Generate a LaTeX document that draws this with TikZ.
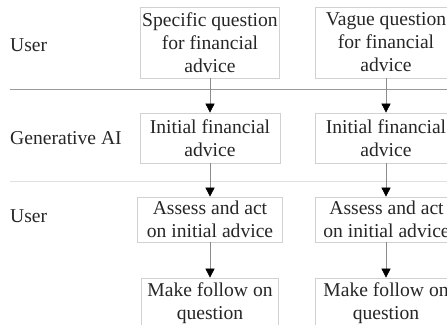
\documentclass[tikz,border=0pt]{standalone}
\usepackage{fontspec}
\setmainfont{Liberation Serif}
\usetikzlibrary{arrows.meta}
\begin{document}
\begin{tikzpicture}[x=1pt,y=-1pt,
  every node/.style={font=\fontsize{19.6}{23}\selectfont, text=black!85},
  stepbox/.style={draw=black!18, line width=0.7pt, align=center, inner sep=0pt},
  lane/.style={anchor=west, inner sep=0pt},
  conn/.style={draw=black!45, line width=0.6pt, -{Triangle[length=9pt,width=9pt,black]}},
  sep/.style={line width=0.6pt}]
\useasboundingbox (0,0) rectangle (447,324);
\node[lane] (u1) at (10,45) {User};
\node[lane] (g) at (10,138) {Generative AI};
\node[lane] (u2) at (10,216) {User};
\draw[sep, draw=black!40] (10,89) coordinate (s1a) -- (447,89) coordinate (s1b);
\draw[sep, draw=black!12] (10,181) coordinate (s2a) -- (447,181) coordinate (s2b);
% left column
\node[stepbox, minimum width=139, minimum height=71] (a1) at (210,42.5) {Specific question\\for financial\\advice};
\node[stepbox, minimum width=140, minimum height=50] (a2) at (210,138) {Initial financial\\advice};
\node[stepbox, minimum width=145, minimum height=45] (a3) at (210,219.5) {Assess and act\\on initial advice};
\node[stepbox, minimum width=137, minimum height=50] (a4) at (210,303) {Make follow on\\question};
% right column
\node[stepbox, minimum width=141, minimum height=71] (b1) at (386,42.5) {Vague question\\for financial\\advice};
\node[stepbox, minimum width=142, minimum height=50] (b2) at (386,138) {Initial financial\\advice};
\node[stepbox, minimum width=143, minimum height=45] (b3) at (386.5,219.5) {Assess and act\\on initial advice};
\node[stepbox, minimum width=141, minimum height=50] (b4) at (386,303) {Make follow on\\question};
\draw[conn] (a1) -- (a2);
\draw[conn] (a2) -- (a3);
\draw[conn] (a3) -- (a4);
\draw[conn] (b1.south) -- (b1.south |- b2.north);
\draw[conn] (b2.south) -- (b2.south |- b3.north);
\draw[conn] (b3.south -| b2.south) -- (b2.south |- b4.north);
\end{tikzpicture}
\end{document}
